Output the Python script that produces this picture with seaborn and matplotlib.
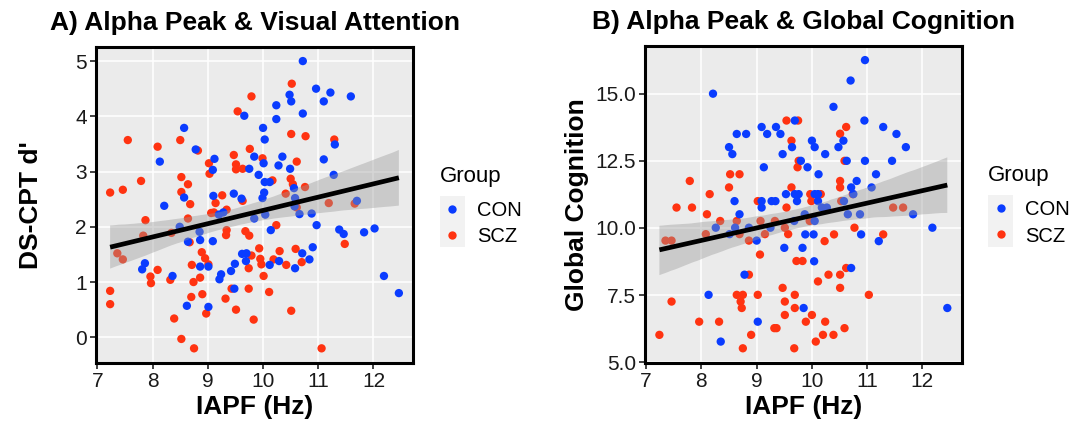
import numpy as np
import pandas as pd
import matplotlib
matplotlib.use("Agg")
import matplotlib.pyplot as plt
import seaborn as sns
from matplotlib.collections import PolyCollection
from matplotlib.lines import Line2D
from matplotlib.patches import Rectangle

# ---------------- data ----------------
# Panel A: IAPF vs DS-CPT d'
con_iapf_a = [7.81, 7.86, 8.13, 8.21, 8.36, 8.49, 8.57, 8.57, 8.62, 8.64,
              8.78, 8.85, 8.86, 8.86, 9.01, 9.01, 9.09, 9.12, 9.10, 9.09,
              9.20, 9.28, 9.24, 9.21, 9.42, 9.49, 9.48, 9.47, 9.61, 9.66,
              9.62, 9.70, 9.69, 9.75, 9.84, 9.84, 9.92, 10.00, 10.01, 10.03,
              10.02, 9.99, 10.03, 10.04, 10.12, 10.14, 10.12, 10.24, 10.24, 10.28,
              10.35, 10.29, 10.48, 10.51, 10.49, 10.56, 10.58, 10.58, 10.72, 10.72,
              10.66, 10.71, 10.84, 10.88, 10.90, 10.96, 10.97, 11.10, 11.10, 11.22,
              11.28, 11.30, 11.38, 11.46, 11.59, 11.70, 11.83, 12.02, 12.19, 12.46,
              10.57]
con_dcpt = [1.23, 1.34, 3.18, 2.38, 1.11, 2.00, 2.53, 3.79, 0.57, 1.73,
            3.40, 1.91, 1.76, 1.28, 1.28, 0.55, 3.03, 3.23, 2.56, 1.74,
            2.22, 2.26, 1.14, 1.05, 1.20, 1.33, 0.88, 2.60, 2.51, 4.01,
            1.51, 1.52, 1.38, 3.05, 3.27, 2.15, 2.94, 3.79, 3.15, 3.58,
            2.62, 2.52, 2.81, 2.22, 2.81, 1.94, 1.31, 4.20, 3.95, 3.11,
            3.27, 1.38, 4.39, 4.27, 3.05, 2.70, 2.52, 1.25, 5.00, 4.05,
            2.23, 1.52, 1.41, 2.24, 1.63, 4.50, 2.03, 4.27, 3.22, 4.43,
            2.94, 3.49, 1.95, 1.87, 4.36, 2.47, 1.90, 1.97, 1.11, 0.80,
            2.37]
scz_iapf_a = [7.23, 7.23, 7.23, 7.46, 7.55, 7.36, 7.46, 7.79, 7.87, 7.83,
              8.09, 8.09, 7.96, 7.97, 8.32, 8.39, 8.34, 8.50, 8.52, 8.52,
              8.64, 8.64, 8.68, 8.67, 8.71, 8.74, 8.70, 8.52, 8.75, 8.82,
              8.86, 8.89, 8.95, 8.90, 8.97, 9.02, 9.03, 9.06, 9.11, 9.14,
              9.01, 9.26, 9.34, 9.34, 9.33, 9.32, 9.47, 9.51, 9.51, 9.54,
              9.63, 9.63, 9.43, 9.51, 9.68, 9.75, 9.74, 9.79, 9.74, 9.79,
              9.76, 9.83, 9.93, 9.95, 9.97, 10.01, 9.99, 10.17, 10.11, 10.19,
              10.24, 10.30, 10.41, 10.42, 10.52, 10.51, 10.50, 10.54, 10.61, 10.59,
              10.51, 10.70, 10.76, 10.77, 10.61, 11.06, 11.19, 11.29, 11.48, 11.66]
scz_dcpt = [2.62, 0.84, 0.60, 2.67, 3.57, 1.52, 1.41, 2.83, 2.12, 1.84,
            3.45, 1.22, 1.10, 0.98, 1.04, 0.34, 1.89, 3.57, 2.90, 2.63,
            2.77, 2.15, 2.41, 1.72, 1.31, 1.00, 0.73, -0.03, -0.20, 3.38,
            1.08, 1.54, 1.43, 0.78, 0.43, 3.15, 2.96, 2.25, 2.26, 2.43,
            1.32, 2.57, 2.31, 1.94, 1.85, 0.70, 3.30, 3.13, 3.04, 4.09,
            3.05, 2.47, 0.88, 0.50, 1.92, 1.84, 1.25, 1.48, 0.88, 4.36,
            3.41, 0.32, 1.61, 1.42, 1.32, 1.11, 3.24, 2.84, 0.82, 1.41,
            2.03, 1.56, 2.60, 1.31, 4.59, 3.68, 2.87, 2.77, 3.18, 1.60,
            0.48, 1.36, 2.72, 3.64, 2.35, -0.20, 2.43, 3.58, 1.69, 2.42]

# Panel B: IAPF vs Global Cognition
con_iapf_b = [8.21, 8.50, 8.56, 8.64, 8.81, 8.60, 8.69, 8.26, 8.61, 8.51,
              8.86, 8.78, 8.13, 8.35, 9.00, 9.02, 9.09, 9.19, 9.35, 9.43,
              9.47, 9.64, 9.13, 9.09, 9.09, 9.27, 9.34, 9.25, 9.53, 9.69,
              9.76, 9.73, 9.69, 9.80, 9.92, 9.50, 9.83, 9.88, 9.85, 9.68,
              9.87, 10.96, 10.70, 10.39, 10.95, 11.29, 11.53, 11.70, 10.00, 10.05,
              10.24, 10.48, 10.57, 10.63, 10.96, 11.45, 10.12, 11.16, 10.81, 10.71,
              11.08, 10.75, 10.05, 10.11, 10.11, 10.58, 10.18, 10.27, 10.65, 10.87,
              11.83, 10.05, 12.18, 10.03, 10.89, 11.21, 10.04, 10.71, 12.45]
con_gc = [15.00, 13.01, 12.75, 13.50, 13.50, 11.00, 10.51, 10.01, 10.01, 9.77,
          10.01, 8.26, 7.51, 5.77, 9.53, 6.51, 13.76, 13.50, 13.76, 13.50,
          12.75, 13.01, 12.26, 11.00, 10.76, 11.00, 11.00, 10.01, 11.26, 11.26,
          11.26, 11.00, 14.00, 12.50, 12.26, 9.26, 9.26, 9.76, 7.02, 10.26,
          10.51, 16.25, 15.49, 14.51, 14.00, 13.76, 13.50, 13.01, 13.25, 13.01,
          12.75, 13.01, 13.25, 12.50, 12.50, 12.50, 12.00, 12.00, 11.75, 11.51,
          11.51, 11.26, 11.26, 11.26, 11.00, 11.00, 10.76, 10.76, 10.51, 10.51,
          10.51, 10.26, 10.01, 9.76, 9.76, 9.51, 8.76, 8.51, 7.02]
scz_iapf_b = [7.24, 7.35, 7.46, 7.46, 7.55, 7.79, 7.83, 7.96, 8.08, 8.10,
              8.15, 8.32, 8.34, 8.50, 8.52, 8.69, 8.64, 8.69, 8.64, 8.75,
              8.71, 8.73, 8.75, 8.86, 8.86, 8.90, 9.02, 9.06, 9.02, 9.07,
              9.15, 9.33, 9.32, 9.36, 9.47, 9.51, 9.51, 9.51, 9.57, 9.54,
              9.63, 9.63, 9.54, 9.75, 9.69, 9.69, 9.68, 9.72, 9.83, 9.74,
              9.76, 9.89, 9.97, 10.16, 9.99, 9.96, 10.51, 10.62, 10.59, 10.51,
              10.51, 10.53, 10.74, 10.77, 10.40, 10.23, 11.29, 11.47, 11.65, 10.11,
              10.30, 10.51, 10.62, 10.51, 11.03, 10.00, 10.24, 10.59, 10.39, 10.20,
              10.07]
scz_gc = [6.02, 9.53, 9.53, 7.26, 10.76, 11.75, 10.76, 6.51, 9.77, 10.51,
          11.26, 6.51, 10.26, 11.51, 12.00, 12.00, 10.26, 9.77, 7.51, 7.51,
          7.26, 7.02, 5.52, 8.26, 9.53, 6.02, 7.51, 9.01, 11.00, 10.26,
          9.77, 10.26, 6.27, 6.27, 7.77, 7.26, 6.76, 10.01, 9.77, 10.76,
          11.51, 13.25, 14.00, 14.00, 7.51, 7.02, 5.52, 8.77, 8.77, 12.26,
          12.50, 6.51, 11.26, 11.26, 11.00, 10.26, 13.51, 13.76, 12.50, 11.75,
          11.51, 11.00, 11.26, 10.01, 9.76, 9.51, 9.76, 10.76, 10.76, 8.01,
          8.26, 8.26, 8.51, 7.77, 7.51, 6.76, 6.51, 6.27, 6.02, 6.02,
          5.77]

groups = ["CON", "SCZ"]
palette = {"CON": "#0A3CFF", "SCZ": "#FF3311"}

x_ticks = [7, 8, 9, 10, 11, 12]
a_ticks = [0, 1, 2, 3, 4, 5]
b_ticks = [5.0, 7.5, 10.0, 12.5, 15.0]
b_ticklabels = ["5.0", "7.5", "10.0", "12.5", "15.0"]

df_a = pd.concat([
    pd.DataFrame({"IAPF": scz_iapf_a, "Score": scz_dcpt, "Group": "SCZ"}),
    pd.DataFrame({"IAPF": con_iapf_a, "Score": con_dcpt, "Group": "CON"}),
], ignore_index=True)
df_b = pd.concat([
    pd.DataFrame({"IAPF": scz_iapf_b, "Score": scz_gc, "Group": "SCZ"}),
    pd.DataFrame({"IAPF": con_iapf_b, "Score": con_gc, "Group": "CON"}),
], ignore_index=True)

# ---------------- style ----------------
sns.set_style("white")
plt.rcParams["font.family"] = ["Liberation Sans", "DejaVu Sans"]
plt.rcParams["text.color"] = "black"

W, H = 1083, 426
fig = plt.figure(figsize=(W / 100, H / 100), dpi=100)
axA = fig.add_axes([95.7 / W, 1 - 362.7 / H, 317.6 / W, 316.0 / H])
axB = fig.add_axes([645.0 / W, 1 - 362.7 / H, 316.7 / W, 317.0 / H])


def expand(vals, f=0.05):
    lo, hi = min(vals), max(vals)
    p = (hi - lo) * f
    return lo - p, hi + p


def panel(ax, df, title, ylabel, yticks, yticklabels, ylab_x):
    sns.scatterplot(data=df, x="IAPF", y="Score", hue="Group", hue_order=groups,
                    palette=palette, s=36, linewidth=0, ax=ax, legend=False,
                    zorder=2)
    sns.regplot(data=df, x="IAPF", y="Score", scatter=False, ax=ax,
                color="black", line_kws=dict(lw=3.4, zorder=4, solid_capstyle="butt"),
                seed=3, n_boot=2000)
    for c in ax.collections:
        if isinstance(c, PolyCollection):
            c.set_facecolor("#999999")
            c.set_alpha(0.4)
            c.set_edgecolor("none")
            c.set_zorder(3)
    ax.set_facecolor("#EBEBEB")
    ax.grid(True, color="white", lw=1.1)
    ax.set_axisbelow(True)
    for s in ax.spines.values():
        s.set_visible(True)
        s.set_color("black")
        s.set_linewidth(2.2)
        s.set_zorder(6)
    ax.set_xlim(*expand(df["IAPF"].tolist()))
    ax.set_ylim(*expand(df["Score"].tolist()))
    ax.set_xticks(x_ticks)
    ax.set_yticks(yticks)
    ax.set_yticklabels(yticklabels)
    ax.tick_params(axis="both", length=4.5, width=1.3, color="#333333",
                   labelsize=15, labelcolor="#1a1a1a", pad=2, bottom=True, left=True)
    ax.set_xlabel("IAPF (Hz)", fontsize=19, fontweight="bold", labelpad=3,
                  color="black")
    ax.set_ylabel("")
    ax.set_title(title, fontsize=19, fontweight="bold", pad=12, color="black")
    bb = ax.get_position()
    fig.text(ylab_x / W, bb.y0 + bb.height / 2, ylabel, rotation=90,
             ha="center", va="center", fontsize=19, fontweight="bold",
             color="black")

    # legend (title drawn as separate text for exact spacing)
    x_ax = 1.083
    ax.text(x_ax, (362.7 - 182) / 316.0, "Group", transform=ax.transAxes,
            ha="left", va="baseline", fontsize=16, color="black")
    handles = [Line2D([], [], ls="none", marker="o", markersize=6,
                      markerfacecolor=palette[g], markeredgewidth=0) for g in groups]
    ax.legend(handles, groups, loc="upper left",
              bbox_to_anchor=(x_ax, (362.7 - 201) / 316.0), frameon=False,
              borderpad=0, borderaxespad=0, handlelength=1.25, handletextpad=0.6,
              labelspacing=0.35, fontsize=14.5, labelcolor="black")
    ax.add_patch(Rectangle((x_ax, (362.7 - 247.3) / 316.0), 0.079, 51.6 / 316.0,
                           transform=ax.transAxes, clip_on=False,
                           facecolor="#F2F2F2", edgecolor="none", zorder=0.5))


panel(axA, df_a, "A) Alpha Peak & Visual Attention", "DS-CPT d'",
      a_ticks, [str(t) for t in a_ticks], 31)
panel(axB, df_b, "B) Alpha Peak & Global Cognition", "Global Cognition",
      b_ticks, b_ticklabels, 577)

fig.savefig("out.png", dpi=100, facecolor="white")
